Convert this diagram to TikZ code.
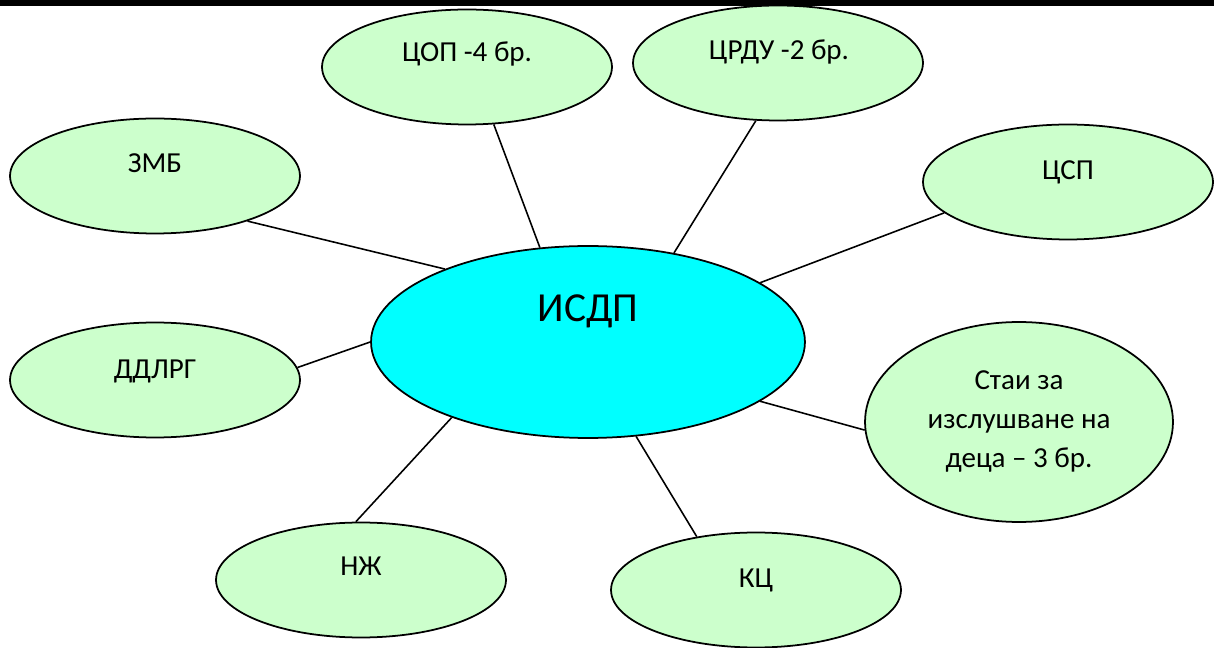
\documentclass[tikz,border=0pt]{standalone}
\usepackage{fontspec}
\setmainfont{Carlito}
\usetikzlibrary{shapes.geometric}
\definecolor{bubgreen}{RGB}{204, 255, 204}
\definecolor{hubcyan}{RGB}{0, 255, 255}

\begin{document}
\begin{tikzpicture}[x=0.02cm, y=-0.02cm,
  bub/.style={ellipse, draw, line width=1pt, fill=bubgreen, minimum width=5.8cm, minimum height=2.3cm, inner sep=0pt},
  lbl/.style={font=\fontsize{16.5}{22.2}\selectfont, inner sep=0pt, anchor=base, align=center},
  link/.style={line width=0.9pt}]
  \useasboundingbox (0,0) rectangle (1214,648);
  % Top rule
  \fill[black] (0,0) rectangle (1214,6);

  % Hub
  \node[ellipse, draw, line width=1pt, fill=hubcyan, minimum width=8.68cm, minimum height=3.84cm, inner sep=0pt] (isdp) at (588,342) {};
  \node[lbl, font=\fontsize{23.5}{28}\selectfont] (isdp-t) at (588,322) {ИСДП};

  % Top row
  \node[bub] (cop) at (467,67) {};
  \node[lbl] (cop-t) at (467,62) {ЦОП -4 бр.};
  \node[bub] (crdu) at (778,63) {};
  \node[lbl] (crdu-t) at (779,60) {ЦРДУ -2 бр.};

  % Left side
  \node[bub] (zmb) at (155,176) {};
  \node[lbl] (zmb-t) at (155,173) {ЗМБ};
  \node[bub] (ddlrg) at (155,380) {};
  \node[lbl] (ddlrg-t) at (155,379) {ДДЛРГ};

  % Right side
  \node[bub] (csp) at (1068,182) {};
  \node[lbl] (csp-t) at (1068,180) {ЦСП};
  \node[bub, minimum width=6.16cm, minimum height=4cm] (stai) at (1019,422) {};
  \node[lbl, anchor=center] (stai-t) at (1019,421) {Стаи за\\изслушване на\\деца – 3 бр.};

  % Bottom row
  \node[bub] (nzh) at (361,580) {};
  \node[lbl] (nzh-t) at (361,575) {НЖ};
  \node[bub] (kc) at (756,590) {};
  \node[lbl] (kc-t) at (756,587) {КЦ};

  % Links
  \draw[link] (zmb.-26) -- (isdp.153);
  \draw[link] (cop.-65) -- (isdp.117);
  \draw[link] (crdu.-111) -- (isdp.46);
  \draw[link] (csp.-166) -- (isdp.19);
  \draw[link] (ddlrg.5) -- (isdp.180);
  \draw[link] (stai.-177) -- (isdp.-19);
  \draw[link] (nzh.95) -- (isdp.-151);
  \draw[link] (kc.138) -- (isdp.-63);
\end{tikzpicture}
\end{document}
